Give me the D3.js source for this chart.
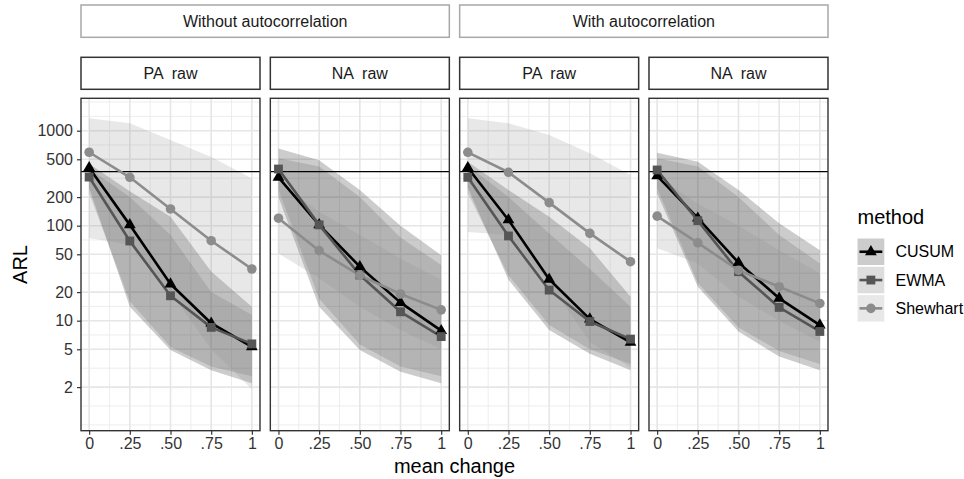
<!DOCTYPE html>
<html>
<head>
<meta charset="utf-8">
<script src="https://cdn.jsdelivr.net/npm/d3@7"></script>
<style>
  body { margin: 0; background: #ffffff; }
  text { font-family: "Liberation Sans", Arial, Helvetica, sans-serif; }
</style>
</head>
<body>
<svg id="chart" width="964" height="479"></svg>
<script>
// ---- data ---------------------------------------------------------------
const meanChange = [0, 0.25, 0.5, 0.75, 1];
const xTickLabels = ["0", ".25", ".50", ".75", "1"];
const yTickValues = [2, 5, 10, 20, 50, 100, 200, 500, 1000];
const methods = ["CUSUM", "EWMA", "Shewhart"];
const groupLabels = ["Without autocorrelation", "With autocorrelation"];
const panelLabels = ["PA  raw", "NA  raw"];
const targetARL = 370;

// Without autocorrelation, PA raw  (rows: CUSUM, EWMA, Shewhart)
const noAcPA_arl = [[408, 102, 24.3, 9.4, 5.3], [325, 69, 18.3, 8.5, 5.7], [593, 323, 150, 69.5, 35]];
const noAcPA_lo  = [[250, 14, 4.9, 3.0, 2.2], [220, 16, 5.3, 3.3, 2.6], [74, 63, 20, 5, 1.9]];
const noAcPA_hi  = [[450, 230, 124, 33, 14], [400, 200, 80, 20, 11.5], [1350, 1200, 800, 530, 315]];

// Without autocorrelation, NA raw
const noAcNA_arl = [[323, 102, 37, 15.5, 7.85], [395, 102, 30.3, 12.4, 6.8], [120, 54.6, 30, 19.1, 13]];
const noAcNA_lo  = [[200, 14, 4.9, 2.9, 2.2], [240, 17, 5.6, 3.3, 2.6], [51, 28, 14, 8, 5]];
const noAcNA_hi  = [[650, 490, 238, 100, 49], [513, 420, 200, 75, 38.6], [290, 140, 80, 45, 27]];

// With autocorrelation, PA raw
const acPA_arl = [[408, 115, 27.3, 10.4, 5.9], [323, 78, 21, 9.8, 6.4], [592, 365, 175, 83, 41.8]];
const acPA_lo  = [[250, 27, 8, 4.5, 3.0], [220, 30, 9, 5, 3.5], [86, 80, 25, 6, 3.2]];
const acPA_hi  = [[472, 238, 124, 58, 17.9], [430, 200, 83, 35, 14], [1350, 1200, 900, 578, 342]];

// With autocorrelation, NA raw
const acNA_arl = [[334, 120, 40.8, 17.2, 9.0], [386, 113, 32.8, 13.8, 7.7], [126, 66, 34, 22.8, 15.2]];
const acNA_lo  = [[220, 22.8, 7.7, 4.2, 3.0], [250, 25, 8.5, 4.8, 3.5], [58, 40, 18, 10, 6]];
const acNA_hi  = [[586, 472, 238, 106, 55], [513, 420, 200, 80, 40], [330, 170, 100, 55, 31.6]];

// ---- layout & styles ----------------------------------------------------
const lineColors = ["#000000", "#555555", "#8c8c8c"];
const ribbonOpacity = 0.2;
const panelTop = 98.3, panelBottom = 430.7;
const panelLeft = 81, panelW = 179, panelGap = 10.33;

const facets = [
  { group: 0, label: 0, arl: noAcPA_arl, lo: noAcPA_lo, hi: noAcPA_hi },
  { group: 0, label: 1, arl: noAcNA_arl, lo: noAcNA_lo, hi: noAcNA_hi },
  { group: 1, label: 0, arl: acPA_arl, lo: acPA_lo, hi: acPA_hi },
  { group: 1, label: 1, arl: acNA_arl, lo: acNA_lo, hi: acNA_hi }
];

const svg = d3.select("#chart");
const x = d3.scaleLinear().domain([-0.05, 1.05]).range([0, panelW]);
const y = d3.scaleLog().domain([0.695, 2193]).range([panelBottom, panelTop]);

// minor grid: log-midpoints between majors, with one extra step at each end
const logT = yTickValues.map(Math.log10);
const ext = [logT[0] - (logT[1] - logT[0]), ...logT,
             logT[logT.length - 1] + (logT[logT.length - 1] - logT[logT.length - 2])];
const yMinor = [];
for (let i = 0; i < ext.length - 1; i++) yMinor.push(Math.pow(10, (ext[i] + ext[i + 1]) / 2));
yMinor.push(Math.pow(10, ext[0]), Math.pow(10, ext[ext.length - 1]));
const xMinor = [0.125, 0.375, 0.625, 0.875];

const symbols = [d3.symbolTriangle, d3.symbolSquare, d3.symbolCircle];
const symbolSizes = [60, 78, 72];

const panelX = i => panelLeft + i * (panelW + panelGap);

// ---- outer strips -------------------------------------------------------
groupLabels.forEach((g, gi) => {
  const x0 = panelX(gi * 2), x1 = panelX(gi * 2 + 1) + panelW;
  svg.append("rect").attr("x", x0).attr("y", 5).attr("width", x1 - x0).attr("height", 32.3)
    .attr("fill", "#ffffff").attr("stroke", "#a8a8a8").attr("stroke-width", 1.5);
  svg.append("text").attr("x", (x0 + x1) / 2).attr("y", 26.8).attr("text-anchor", "middle")
    .attr("font-size", 16).attr("fill", "#1a1a1a").text(g);
});

// ---- panels -------------------------------------------------------------
facets.forEach((f, pi) => {
  const px = panelX(pi);
  const g = svg.append("g").attr("transform", `translate(${px},0)`);

  // strip
  g.append("rect").attr("x", 0).attr("y", 57.3).attr("width", panelW).attr("height", 32)
    .attr("fill", "#ffffff").attr("stroke", "#333333").attr("stroke-width", 1.5);
  g.append("text").attr("x", panelW / 2).attr("y", 78.8).attr("text-anchor", "middle")
    .attr("font-size", 16).attr("fill", "#1a1a1a").attr("xml:space", "preserve")
    .style("white-space", "pre").text(panelLabels[f.label]);

  // grid
  const grid = g.append("g");
  yMinor.filter(v => y(v) >= panelTop && y(v) <= panelBottom).forEach(v => {
    grid.append("line").attr("x1", 0).attr("x2", panelW).attr("y1", y(v)).attr("y2", y(v))
      .attr("stroke", "#ebebeb").attr("stroke-width", 0.9);
  });
  xMinor.forEach(v => {
    grid.append("line").attr("x1", x(v)).attr("x2", x(v)).attr("y1", panelTop).attr("y2", panelBottom)
      .attr("stroke", "#ebebeb").attr("stroke-width", 0.9);
  });
  yTickValues.forEach(v => {
    grid.append("line").attr("x1", 0).attr("x2", panelW).attr("y1", y(v)).attr("y2", y(v))
      .attr("stroke", "#e6e6e6").attr("stroke-width", 1.6);
  });
  meanChange.forEach(v => {
    grid.append("line").attr("x1", x(v)).attr("x2", x(v)).attr("y1", panelTop).attr("y2", panelBottom)
      .attr("stroke", "#e6e6e6").attr("stroke-width", 1.6);
  });

  // ribbons
  const area = d3.area().x((d, i) => x(meanChange[i])).y0(d => y(d[0])).y1(d => y(d[1]));
  methods.forEach((m, mi) => {
    const pts = f.lo[mi].map((v, i) => [v, f.hi[mi][i]]);
    g.append("path").attr("d", area(pts)).attr("fill", lineColors[mi]).attr("fill-opacity", ribbonOpacity);
  });

  // reference ARL
  g.append("line").attr("x1", 0).attr("x2", panelW).attr("y1", y(targetARL)).attr("y2", y(targetARL))
    .attr("stroke", "#000000").attr("stroke-width", 1.3);

  // lines
  const line = d3.line().x((d, i) => x(meanChange[i])).y(d => y(d));
  methods.forEach((m, mi) => {
    g.append("path").attr("d", line(f.arl[mi])).attr("fill", "none")
      .attr("stroke", lineColors[mi]).attr("stroke-width", 2.6).attr("stroke-linejoin", "round");
  });
  // points
  methods.forEach((m, mi) => {
    f.arl[mi].forEach((v, i) => {
      g.append("path").attr("d", d3.symbol().type(symbols[mi]).size(symbolSizes[mi])())
        .attr("transform", `translate(${x(meanChange[i])},${y(v)})`).attr("fill", lineColors[mi]);
    });
  });

  // x axis
  const xAxis = g.append("g").attr("transform", `translate(0,${panelBottom})`)
    .call(d3.axisBottom(x).tickValues(meanChange).tickSize(4).tickPadding(3)
      .tickFormat((d, i) => xTickLabels[i]));
  xAxis.select(".domain").remove();
  xAxis.selectAll("line").attr("stroke", "#333333").attr("stroke-width", 1.2);
  xAxis.selectAll("text").attr("font-size", 16).attr("fill", "#333333")
    .attr("font-family", "Liberation Sans, Arial, sans-serif");

  // y axis on the first panel only
  if (pi === 0) {
    const yAxis = g.append("g")
      .call(d3.axisLeft(y).tickValues(yTickValues).tickSize(4).tickPadding(4).tickFormat(d3.format("d")));
    yAxis.select(".domain").remove();
    yAxis.selectAll("line").attr("stroke", "#333333").attr("stroke-width", 1.2);
    yAxis.selectAll("text").attr("font-size", 16).attr("fill", "#333333")
      .attr("font-family", "Liberation Sans, Arial, sans-serif");
  }

  // border
  g.append("rect").attr("x", 0).attr("y", panelTop).attr("width", panelW).attr("height", panelBottom - panelTop)
    .attr("fill", "none").attr("stroke", "#333333").attr("stroke-width", 1.4);
});

// ---- axis titles --------------------------------------------------------
svg.append("text").attr("transform", `translate(27,${(panelTop + panelBottom) / 2}) rotate(-90)`)
  .attr("text-anchor", "middle").attr("font-size", 20).attr("fill", "#000").text("ARL");
svg.append("text").attr("x", (panelX(0) + panelX(3) + panelW) / 2).attr("y", 473)
  .attr("text-anchor", "middle").attr("font-size", 20).attr("fill", "#000").text("mean change");

// ---- legend -------------------------------------------------------------
const lg = svg.append("g").attr("transform", "translate(857.5,0)");
lg.append("text").attr("x", 0).attr("y", 224).attr("font-size", 20).attr("fill", "#000").text("method");
methods.forEach((m, mi) => {
  const ky = 238.5 + mi * 28.3;
  lg.append("rect").attr("x", 0).attr("y", ky).attr("width", 26.8).attr("height", 26.5)
    .attr("fill", lineColors[mi]).attr("fill-opacity", ribbonOpacity);
  lg.append("line").attr("x1", 2).attr("x2", 24.8).attr("y1", ky + 13.25).attr("y2", ky + 13.25)
    .attr("stroke", lineColors[mi]).attr("stroke-width", 2.6);
  lg.append("path").attr("d", d3.symbol().type(symbols[mi]).size(symbolSizes[mi])())
    .attr("transform", `translate(13.4,${ky + 13.25})`).attr("fill", lineColors[mi]);
  lg.append("text").attr("x", 38).attr("y", ky + 13.25).attr("dy", "0.35em")
    .attr("font-size", 16).attr("fill", "#000").text(m);
});
</script>
</body>
</html>
